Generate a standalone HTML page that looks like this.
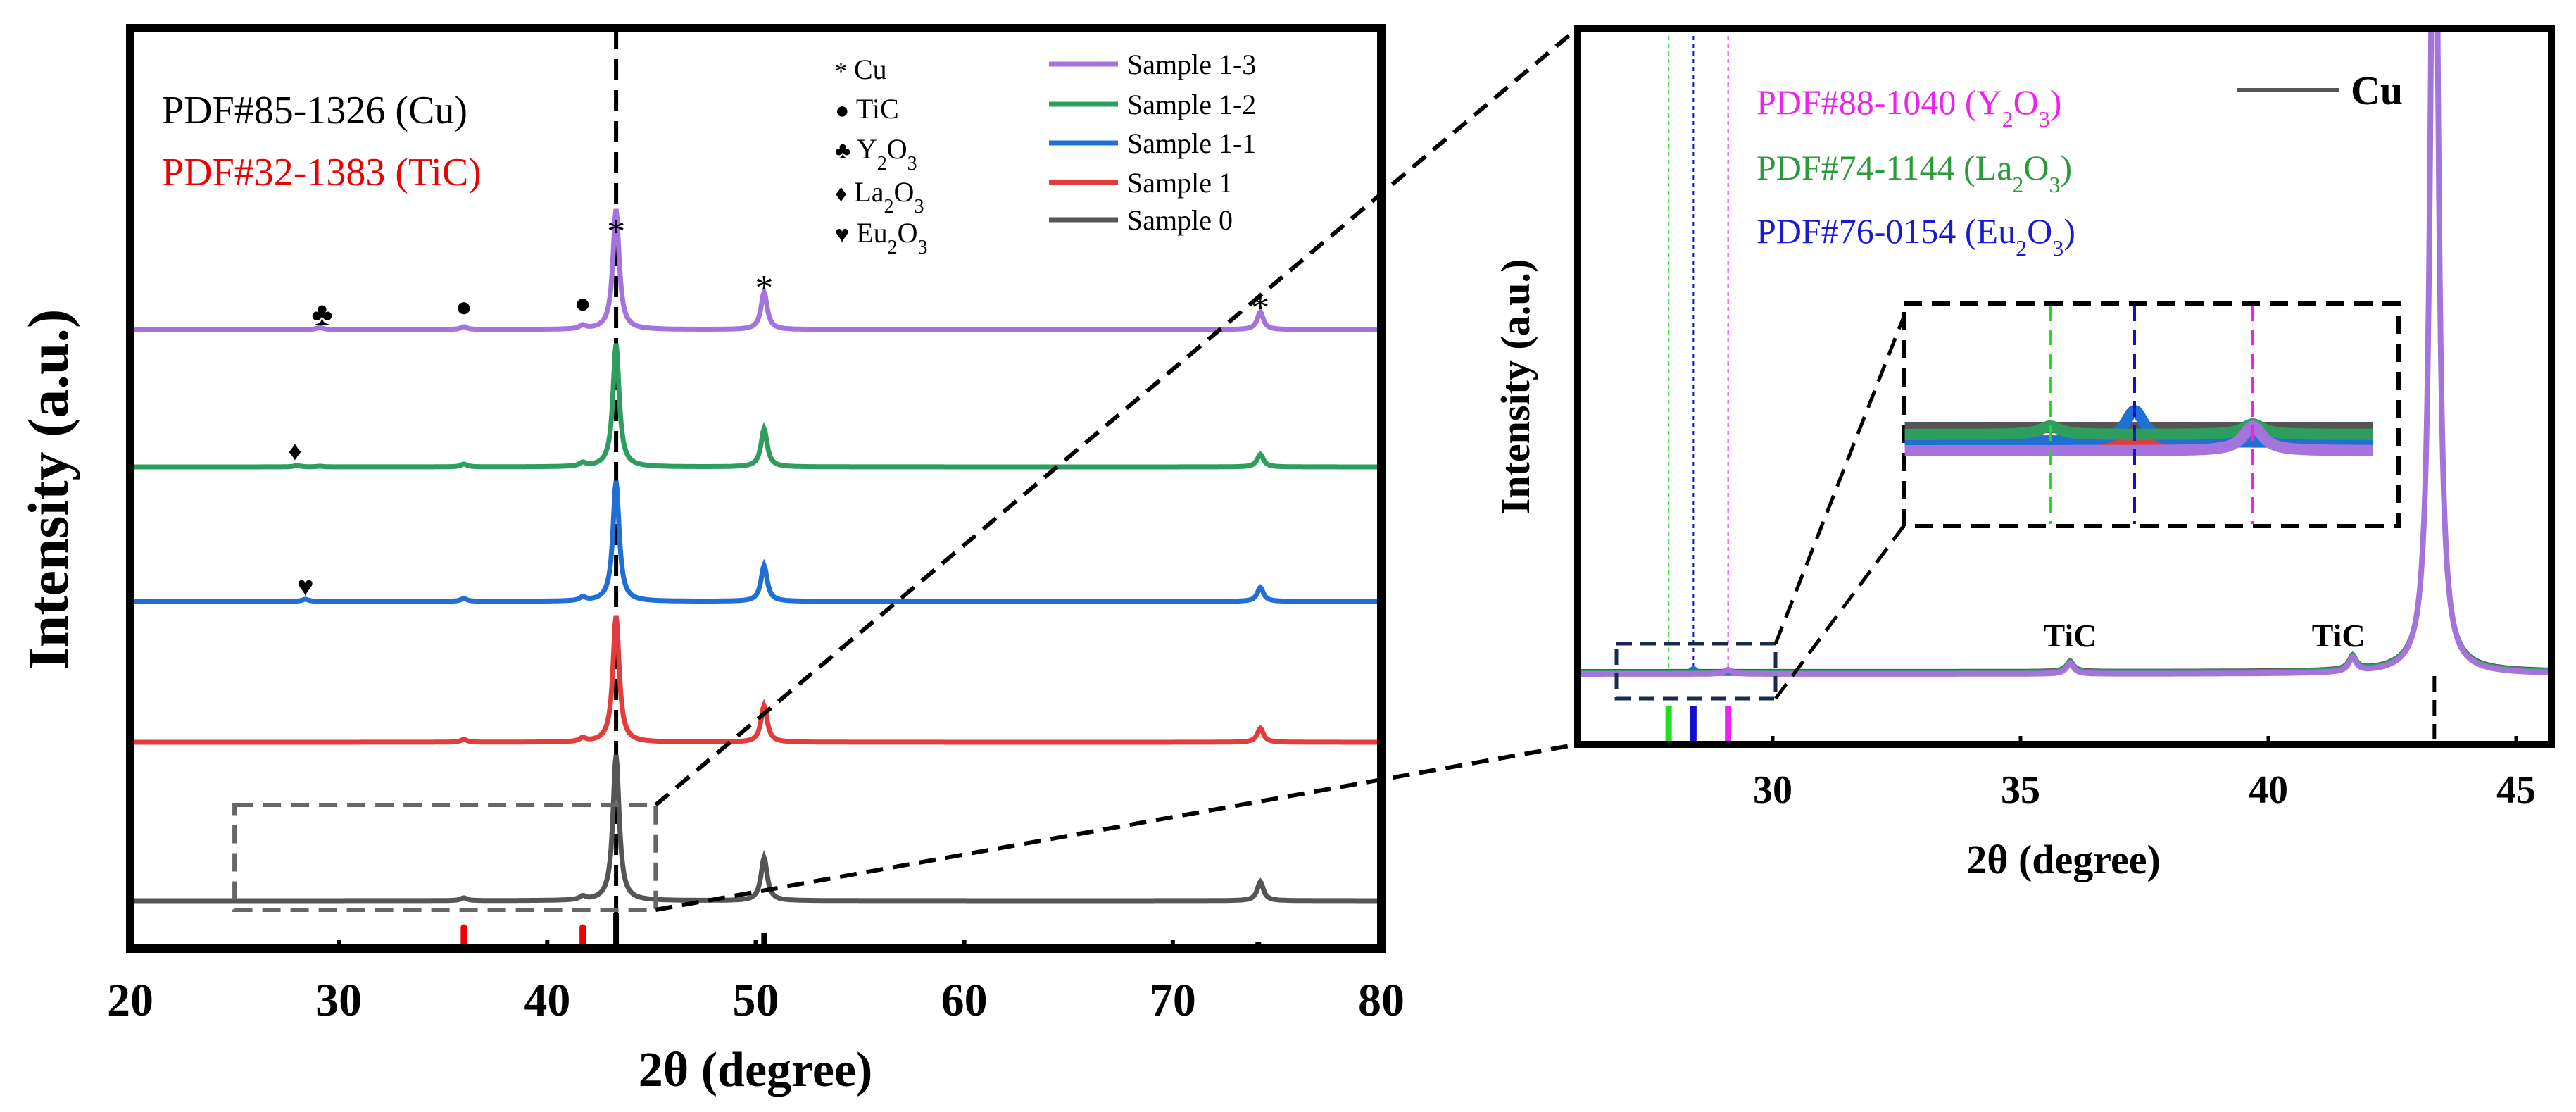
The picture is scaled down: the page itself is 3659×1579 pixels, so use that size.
<!DOCTYPE html>
<html><head><meta charset="utf-8"><style>
html,body{margin:0;padding:0;background:#fff}
svg{display:block;font-family:"Liberation Serif",serif}
</style></head><body>
<svg id="chart" width="3659" height="1579" viewBox="0 0 3659 1579" xmlns="http://www.w3.org/2000/svg">
<g id="left"></g>
<g id="right"></g>
</svg>
<script>
// ---------- data ----------
const seriesNames = ["Sample 0","Sample 1","Sample 1-1","Sample 1-2","Sample 1-3"];
const seriesColors = ["#555555","#e23c3c","#1f6fd6","#2e9e5e","#a474dc"];
const seriesOffsets = [68, 293, 493, 684, 879];
const peakPositions = [28.0, 28.4, 29.1, 36.0, 41.7, 43.3, 50.4, 74.2];
const peakHeightsS0 = [0, 0, 0, 4, 5, 207, 61, 27];
const peakHeightsS1 = [0, 0, 0, 4, 5, 180, 52, 20];
const peakHeightsS11 = [0, 3, 0, 4, 5, 171, 51, 20];
const peakHeightsS12 = [2, 0, 1, 4, 5, 175, 54, 18];
const peakHeightsS13 = [0, 0, 3, 4, 5, 171, 53, 25];
const xTicksLeft = [20, 30, 40, 50, 60, 70, 80];
const xTicksRight = [30, 35, 40, 45];
const cuRefPeaks = [43.3, 50.4, 74.1];
const ticRefPeaks = [36.0, 41.7];
const refLinesRight = [27.9, 28.4, 29.1];
const refColorsRight = ["#22dd22", "#1010d0", "#ee22ee"];
const zoomCuHeight = 1400, zoomTic36 = 15, zoomTic41 = 20;
const insetPeaksBlue = 45, insetPeaksPurple = 35, insetGreen1 = 12, insetGreen2 = 15;

const allHeights = [peakHeightsS0, peakHeightsS1, peakHeightsS11, peakHeightsS12, peakHeightsS13];
const NS = "http://www.w3.org/2000/svg";
function mk(parent, tag, attrs, name, text){
  const e = document.createElementNS(NS, tag);
  for (const k in attrs) e.setAttribute(k, attrs[k]);
  
  
  if (text !== undefined) e.innerHTML = text;
  parent.appendChild(e);
  return e;
}
function prof(x, pos, h, w){ let s=0; for(let i=0;i<pos.length;i++){ const d=(x-pos[i])/w; s+=h[i]/(1+d*d);} return s; }

// ---------- left panel ----------
const L = document.getElementById('left');
const lx = v => 185 + (v-20)*(1962-185)/60;
const ly = v => 1347 - v;
mk(L,'line',{x1:lx(43.3),y1:40,x2:lx(43.3),y2:1347,stroke:'#000','stroke-width':6,'stroke-dasharray':'30,14'},'cu-reference-line');
for (let s=0;s<5;s++){
  let pts=[];
  for (let x=20;x<=80;x+=0.05){ pts.push(lx(x).toFixed(1)+','+ly(seriesOffsets[s]+prof(x,peakPositions,allHeights[s],0.18)).toFixed(1)); }
  mk(L,'polyline',{points:pts.join(' '),fill:'none',stroke:seriesColors[s],'stroke-width':7},'trace-'+seriesNames[s].toLowerCase().replace(/ /g,'-'));
}
cuRefPeaks.forEach((p,i)=>{ const h=i==0?50:(i==1?22:10);
  mk(L,'line',{x1:lx(p),y1:1347,x2:lx(p),y2:1347-h,stroke:'#000','stroke-width':8},'cu-ref-stick');});
ticRefPeaks.forEach(p=>{ mk(L,'line',{x1:lx(p),y1:1347,x2:lx(p),y2:1317,stroke:'#e00','stroke-width':9,'stroke-linecap':'round'},'tic-ref-stick');});
mk(L,'rect',{x:lx(25),y:1143,width:lx(45.2)-lx(25),height:149,fill:'none',stroke:'#666','stroke-width':6,'stroke-dasharray':'26,14'},'zoom-region-box');
mk(L,'rect',{x:185,y:40,width:1777,height:1307,fill:'none',stroke:'#000','stroke-width':12},'left-plot-frame');
xTicksLeft.forEach(t=>{
  mk(L,'line',{x1:lx(t),y1:1347,x2:lx(t),y2:1335,stroke:'#000','stroke-width':6},'x-tick');
  mk(L,'text',{x:lx(t),y:1442,'text-anchor':'middle','font-size':66,'font-weight':'bold'},'x-tick-label',t);
});
mk(L,'text',{x:1073,y:1542,'text-anchor':'middle','font-size':70,'font-weight':'bold'},'x-axis-title','2θ (degree)');
mk(L,'text',{x:0,y:0,transform:'translate(96,695) rotate(-90)','text-anchor':'middle','font-size':82,'font-weight':'bold'},'y-axis-title','Intensity (a.u.)');
mk(L,'text',{x:230,y:175,'font-size':56},'pdf-cu-label','PDF#85-1326 (Cu)');
mk(L,'text',{x:230,y:263,'font-size':56,fill:'#e00'},'pdf-tic-label','PDF#32-1383 (TiC)');
const ph=[['*','Cu',98],['●','TiC',154],['♣','Y<tspan baseline-shift="sub" font-size="28">2</tspan>O<tspan baseline-shift="sub" font-size="28">3</tspan>',211],['♦','La<tspan baseline-shift="sub" font-size="28">2</tspan>O<tspan baseline-shift="sub" font-size="28">3</tspan>',272],['♥','Eu<tspan baseline-shift="sub" font-size="28">2</tspan>O<tspan baseline-shift="sub" font-size="28">3</tspan>',330]];
ph.forEach(p=>{ mk(L,'text',{x:1186,y:p[2]+14,'font-size':40},'phase-legend-entry','<tspan font-size="34">'+p[0]+'</tspan> '+p[1]); });
const ly0=[312,259,203,148,91];
for(let s=0;s<5;s++){
  mk(L,'line',{x1:1490,y1:ly0[s],x2:1588,y2:ly0[s],stroke:seriesColors[s],'stroke-width':7},'legend-line');
  mk(L,'text',{x:1601,y:ly0[s]+14,'font-size':40},'legend-entry',seriesNames[s]);
}
const mks=[['*',43.3,330,52],['*',50.4,410,52],['*',74.2,438,52],['♣',29.2,445,46],['●',36,433,40],['●',41.7,428,40],['♦',27.9,637,38],['♥',28.4,830,40]];
mks.forEach(m=>mk(L,'text',{x:lx(m[1]),y:m[2]+16,'text-anchor':'middle','font-size':m[3]},'peak-marker',m[0]));
mk(L,'line',{x1:lx(45.2),y1:1143,x2:2241,y2:40,stroke:'#000','stroke-width':6,'stroke-dasharray':'24,14'},'connector-top');
mk(L,'line',{x1:lx(45.2),y1:1292,x2:2241,y2:1057,stroke:'#000','stroke-width':6,'stroke-dasharray':'24,14'},'connector-bottom');

// ---------- right panel ----------
const R = document.getElementById('right');
const rx = v => 2518 + (v-30)*70.4;
const ry = v => 957 - v;
const defs = mk(R,'defs',{},'defs');
const cp = mk(defs,'clipPath',{id:'rclip'},'clip');
mk(cp,'rect',{x:2241,y:40,width:1383,height:1017},'clip-rect');
refLinesRight.forEach((p,i)=>{
  mk(R,'line',{x1:rx(p),y1:40,x2:rx(p),y2:955,stroke:refColorsRight[i],'stroke-width':2,'stroke-dasharray':'6,5'},'ref-dotted-line');
  mk(R,'line',{x1:rx(p),y1:1002,x2:rx(p),y2:1057,stroke:refColorsRight[i],'stroke-width':9},'ref-stick');
});
mk(R,'line',{x1:rx(43.35),y1:960,x2:rx(43.35),y2:1057,stroke:'#000','stroke-width':5,'stroke-dasharray':'22,12'},'cu-dashed-line');
const rg = mk(R,'g',{'clip-path':'url(#rclip)'},'right-traces');
const zPos=[28.4,29.1,36.0,41.7,43.35];
const zOff=[4,2,0,3,0];
for (let s=0;s<5;s++){
  const h=[s==2?8:0, s==4?6:0, zoomTic36, zoomTic41, zoomCuHeight];
  let pts=[];
  for (let x=26;x<=45.8;x+=0.02){ pts.push(rx(x).toFixed(1)+','+ry(zOff[s]+prof(x,zPos,h,0.09)).toFixed(1)); }
  mk(rg,'polyline',{points:pts.join(' '),fill:'none',stroke:seriesColors[s],'stroke-width':s==4?8:6},'zoom-trace');
}
mk(R,'rect',{x:2296,y:914,width:226,height:78,fill:'none',stroke:'#1a2a4a','stroke-width':5,'stroke-dasharray':'22,12'},'inset-source-box');
mk(R,'line',{x1:2522,y1:914,x2:2704,y2:450,stroke:'#000','stroke-width':5,'stroke-dasharray':'26,14'},'inset-connector-top');
mk(R,'line',{x1:2522,y1:992,x2:2704,y2:747,stroke:'#000','stroke-width':5,'stroke-dasharray':'26,14'},'inset-connector-bottom');
const ix = v => 2912 + (v-27.9)*240;
mk(R,'rect',{x:2704,y:431,width:703,height:316,fill:'#fff',stroke:'#000','stroke-width':6,'stroke-dasharray':'26,14'},'inset-box');
const iBase=[607,625,628,617,640];
const iPeaks=[[0,0,0],[0,0,0],[0,insetPeaksBlue,0],[insetGreen1,0,insetGreen2],[0,0,insetPeaksPurple]];
for (let s=0;s<5;s++){
  let pts=[];
  for (let x=27.04;x<=29.82;x+=0.01){ pts.push(ix(x).toFixed(1)+','+(iBase[s]-prof(x,[27.9,28.4,29.1],iPeaks[s],0.07)).toFixed(1)); }
  mk(R,'polyline',{points:pts.join(' '),fill:'none',stroke:seriesColors[s],'stroke-width':16,'stroke-linejoin':'round'},'inset-trace');
}
refLinesRight.forEach((p,i)=>{
  mk(R,'line',{x1:ix(p),y1:434,x2:ix(p),y2:744,stroke:refColorsRight[i],'stroke-width':4,'stroke-dasharray':'22,12'},'inset-ref-line');
});
mk(R,'rect',{x:2241,y:40,width:1383,height:1017,fill:'none',stroke:'#000','stroke-width':10},'right-plot-frame');
xTicksRight.forEach(t=>{
  mk(R,'line',{x1:rx(t),y1:1057,x2:rx(t),y2:1045,stroke:'#000','stroke-width':5},'x-tick');
  mk(R,'text',{x:rx(t),y:1140,'text-anchor':'middle','font-size':56,'font-weight':'bold'},'x-tick-label',t);
});
mk(R,'text',{x:2931,y:1240,'text-anchor':'middle','font-size':58,'font-weight':'bold'},'x-axis-title','2θ (degree)');
mk(R,'text',{x:0,y:0,transform:'translate(2172,549) rotate(-90)','text-anchor':'middle','font-size':58,'font-weight':'bold'},'y-axis-title','Intensity (a.u.)');
mk(R,'text',{x:rx(36),y:918,'text-anchor':'middle','font-size':46,'font-weight':'bold'},'tic-label','TiC');
mk(R,'text',{x:rx(41.7)-20,y:918,'text-anchor':'middle','font-size':46,'font-weight':'bold'},'tic-label','TiC');
const sub='baseline-shift="sub" font-size="32"';
mk(R,'text',{x:2495,y:162,'font-size':50,fill:'#ee22ee'},'pdf-y2o3-label','PDF#88-1040 (Y<tspan '+sub+'>2</tspan>O<tspan '+sub+'>3</tspan>)');
mk(R,'text',{x:2495,y:255,'font-size':50,fill:'#2a9a3a'},'pdf-la2o3-label','PDF#74-1144 (La<tspan '+sub+'>2</tspan>O<tspan '+sub+'>3</tspan>)');
mk(R,'text',{x:2495,y:345,'font-size':50,fill:'#1a1ad0'},'pdf-eu2o3-label','PDF#76-0154 (Eu<tspan '+sub+'>2</tspan>O<tspan '+sub+'>3</tspan>)');
mk(R,'line',{x1:3178,y1:128,x2:3323,y2:128,stroke:'#555','stroke-width':6},'cu-legend-line');
mk(R,'text',{x:3339,y:148,'font-size':58,'font-weight':'bold'},'cu-legend-label','Cu');
</script>
</body></html>
